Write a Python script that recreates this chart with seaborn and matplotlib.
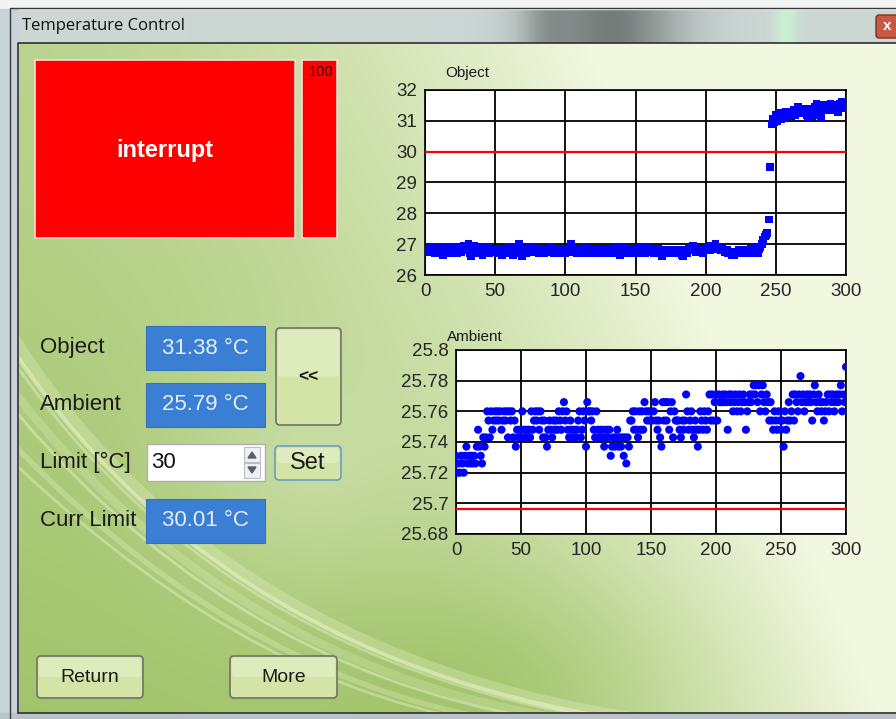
import numpy as np
import matplotlib
matplotlib.use("Agg")
import matplotlib.pyplot as plt
import seaborn as sns
from matplotlib.patches import Rectangle, FancyBboxPatch, Polygon, PathPatch
from matplotlib.path import Path

# ---- data ----
object_temp = [
    26.75, 26.8, 26.75, 26.85, 26.8, 26.9, 26.8, 26.7, 26.85, 26.75,
    26.8, 26.9, 26.7, 26.65, 26.8, 26.75, 26.9, 26.8, 26.7, 26.85,
    26.8, 26.75, 26.9, 26.7, 26.8, 26.85, 26.75, 26.9, 26.95, 26.8,
    26.85, 27.0, 26.7, 26.6, 26.85, 26.95, 26.75, 26.8, 26.7, 26.9,
    26.8, 26.65, 26.9, 26.85, 26.75, 26.9, 26.7, 26.8, 26.85, 26.75,
    26.8, 26.75, 26.85, 26.7, 26.8, 26.65, 26.75, 26.85, 26.7, 26.8,
    26.9, 26.75, 26.8, 26.65, 26.85, 26.7, 26.9, 27.0, 26.8, 26.6,
    26.75, 26.85, 26.7, 26.8, 26.9, 26.75, 26.85, 26.8, 26.9, 26.75,
    26.8, 26.7, 26.85, 26.75, 26.8, 26.7, 26.85, 26.8, 26.75, 26.9,
    26.8, 26.75, 26.7, 26.85, 26.8, 26.75, 26.7, 26.85, 26.75, 26.8,
    26.7, 26.85, 26.75, 26.9, 27.0, 26.8, 26.75, 26.85, 26.7, 26.8,
    26.85, 26.75, 26.8, 26.7, 26.9, 26.8, 26.75, 26.85, 26.7, 26.8,
    26.75, 26.85, 26.8, 26.7, 26.75, 26.8, 26.7, 26.85, 26.75, 26.7,
    26.8, 26.75, 26.85, 26.7, 26.8, 26.75, 26.9, 26.8, 26.7, 26.65,
    26.8, 26.75, 26.9, 26.7, 26.8, 26.85, 26.75, 26.8, 26.7, 26.85,
    26.75, 26.8, 26.7, 26.9, 26.8, 26.75, 26.85, 26.7, 26.8, 26.9,
    26.75, 26.8, 26.85, 26.7, 26.8, 26.75, 26.85, 26.8, 26.7, 26.6,
    26.75, 26.8, 26.7, 26.75, 26.8, 26.7, 26.75, 26.8, 26.7, 26.75,
    26.8, 26.7, 26.75, 26.65, 26.6, 26.75, 26.8, 26.7, 26.85, 26.8,
    26.9, 26.95, 26.8, 26.75, 26.8, 26.85, 26.75, 26.8, 26.7, 26.85,
    26.8, 26.9, 26.85, 26.8, 26.95, 26.9, 26.85, 27.0, 26.9, 26.85,
    26.9, 26.8, 26.85, 26.8, 26.75, 26.8, 26.7, 26.75, 26.7, 26.65,
    26.65, 26.7, 26.75, 26.7, 26.8, 26.75, 26.7, 26.8, 26.75, 26.7,
    26.8, 26.75, 26.85, 26.7, 26.8, 26.9, 26.75, 26.7, 26.85, 26.9,
    27.0, 27.15, 27.25, 27.3, 27.35, 27.8, 29.5, 30.9, 31.05, 30.95,
    31.2, 31.0, 31.1, 31.25, 31.05, 31.2, 31.1, 31.3, 31.15, 31.2,
    31.3, 31.15, 31.25, 31.35, 31.2, 31.3, 31.45, 31.25, 31.3, 31.4,
    31.35, 31.3, 31.2, 31.1, 31.4, 31.3, 31.15, 31.35, 31.45, 31.55,
    31.4, 31.2, 31.1, 31.5, 31.4, 31.35, 31.5, 31.45, 31.4, 31.55,
    31.45, 31.35, 31.5, 31.4, 31.3, 31.45, 31.55, 31.6, 31.45, 31.4,
    31.45,
]
ambient_temp = [
    25.731, 25.720, 25.726, 25.720, 25.731, 25.726, 25.720, 25.731, 25.737, 25.726,
    25.731, 25.726, 25.731, 25.726, 25.731, 25.726, 25.737, 25.748, 25.737, 25.731,
    25.726, 25.743, 25.737, 25.743, 25.760, 25.754, 25.743, 25.760, 25.748, 25.754,
    25.760, 25.754, 25.760, 25.754, 25.760, 25.748, 25.754, 25.760, 25.754, 25.760,
    25.743, 25.760, 25.754, 25.760, 25.743, 25.754, 25.737, 25.748, 25.743, 25.748,
    25.743, 25.760, 25.748, 25.743, 25.748, 25.743, 25.748, 25.743, 25.760, 25.748,
    25.754, 25.760, 25.754, 25.760, 25.748, 25.760, 25.754, 25.743, 25.754, 25.743,
    25.737, 25.748, 25.754, 25.748, 25.743, 25.754, 25.748, 25.754, 25.748, 25.760,
    25.754, 25.748, 25.760, 25.766, 25.754, 25.760, 25.748, 25.743, 25.754, 25.748,
    25.743, 25.748, 25.743, 25.748, 25.754, 25.760, 25.743, 25.748, 25.760, 25.754,
    25.737, 25.766, 25.760, 25.760, 25.754, 25.760, 25.748, 25.743, 25.760, 25.748,
    25.743, 25.748, 25.743, 25.748, 25.737, 25.743, 25.748, 25.743, 25.748, 25.731,
    25.737, 25.743, 25.737, 25.743, 25.748, 25.737, 25.743, 25.737, 25.743, 25.731,
    25.743, 25.726, 25.743, 25.737, 25.754, 25.754, 25.760, 25.748, 25.760, 25.748,
    25.743, 25.760, 25.748, 25.760, 25.748, 25.766, 25.760, 25.754, 25.760, 25.754,
    25.760, 25.754, 25.760, 25.766, 25.754, 25.748, 25.754, 25.743, 25.737, 25.766,
    25.754, 25.766, 25.754, 25.766, 25.748, 25.760, 25.766, 25.743, 25.760, 25.754,
    25.754, 25.754, 25.748, 25.743, 25.754, 25.748, 25.754, 25.771, 25.760, 25.748,
    25.754, 25.760, 25.748, 25.743, 25.754, 25.748, 25.737, 25.748, 25.760, 25.754,
    25.748, 25.760, 25.754, 25.748, 25.760, 25.771, 25.754, 25.771, 25.754, 25.766,
    25.771, 25.754, 25.771, 25.766, 25.766, 25.771, 25.766, 25.771, 25.766, 25.748,
    25.771, 25.766, 25.771, 25.760, 25.766, 25.771, 25.760, 25.766, 25.771, 25.760,
    25.766, 25.771, 25.766, 25.748, 25.760, 25.766, 25.771, 25.766, 25.771, 25.777,
    25.771, 25.777, 25.766, 25.777, 25.760, 25.771, 25.777, 25.766, 25.760, 25.771,
    25.766, 25.754, 25.766, 25.754, 25.748, 25.760, 25.754, 25.748, 25.760, 25.754,
    25.748, 25.754, 25.737, 25.760, 25.748, 25.754, 25.766, 25.754, 25.760, 25.771,
    25.754, 25.771, 25.766, 25.760, 25.771, 25.783, 25.766, 25.771, 25.760, 25.766,
    25.771, 25.766, 25.771, 25.766, 25.754, 25.771, 25.777, 25.766, 25.760, 25.771,
    25.766, 25.760, 25.766, 25.754, 25.760, 25.766, 25.771, 25.760, 25.771, 25.766,
    25.771, 25.760, 25.766, 25.771, 25.766, 25.771, 25.777, 25.760, 25.771, 25.766,
    25.789,
]
object_limit = 29.98
ambient_limit = 25.696

sample_ticks = [0, 50, 100, 150, 200, 250, 300]
object_ticks = [26, 27, 28, 29, 30, 31, 32]
ambient_ticks = [25.68, 25.70, 25.72, 25.74, 25.76, 25.78, 25.80]

window_title = "Temperature Control"
status_text = "interrupt"
status_level = "100"
field_labels = ["Object", "Ambient", "Limit [°C]", "Curr Limit"]
readouts = ["31.38 °C", "25.79 °C", None, "30.01 °C"]
limit_input = "30"
button_labels = ["<<", "Set", "Return", "More"]

W, H = 896, 719
FONT = "Liberation Sans"

sns.set_style("white")
plt.rcParams["font.family"] = [FONT, "DejaVu Sans"]

fig = plt.figure(figsize=(W / 100, H / 100), dpi=100)

# ---- background axes in pixel coordinates ----
bg = fig.add_axes([0, 0, 1, 1], zorder=0)
bg.set_xlim(0, W)
bg.set_ylim(H, 0)
bg.axis("off")

yy, xx = np.mgrid[0:H, 0:W]
u = xx / W
v = yy / H
w = 0.34 - 0.3 * v + 1.0 * u ** 2.0 + 0.4 * u * (1 - v)
w -= 0.28 * np.exp(-(((u - 0.58) / 0.22) ** 2 + ((v - 0.95) / 0.18) ** 2))
w += 0.18 * np.exp(-(((u - 0.32) / 0.12) ** 2 + ((v - 0.66) / 0.15) ** 2))
w = np.clip(w, 0, 1)[..., None]
dark = np.array([0.62, 0.76, 0.40])
light = np.array([0.95, 0.97, 0.88])
img = dark + (light - dark) * w
bg.imshow(img, extent=[0, W, H, 0], aspect="auto", zorder=0)

# light swooshes
for off, lw, al in [(0, 9, 0.25), (14, 3, 0.45), (26, 2, 0.35), (60, 6, 0.2),
                    (80, 2, 0.4), (120, 4, 0.25), (140, 2, 0.35)]:
    p = Path([(-10, 300 + off), (190 + off * 0.3, 650 + off * 0.2), (640 - off * 1.2, 720)],
             [Path.MOVETO, Path.CURVE3, Path.CURVE3])
    bg.add_patch(PathPatch(p, fill=False, ec="#f4fbd8", lw=lw, alpha=al, zorder=1))

# window frame / title bar (blurred desktop behind the glass)
bar = np.ones((34, W, 3)) * np.array([0.80, 0.84, 0.83])
bx = np.arange(W)
shade = 0.42 * np.exp(-((bx - 610) / 70.0) ** 2) + 0.15 * np.exp(-((bx - 545) / 25.0) ** 2)
bar = bar * (1 - shade)[None, :, None]
bar[:, :, 1] += 0.10 * np.exp(-((bx - 785) / 12.0) ** 2)[None, :]
bg.imshow(np.clip(bar, 0, 1), extent=[0, W, 43, 9], aspect="auto", zorder=2)
bg.add_patch(Rectangle((0, 0), W, 9, color="#f2f4f4", zorder=2))
bg.add_patch(Rectangle((0, 9), 18, H, color="#c9d3da", zorder=2))
bg.add_patch(Rectangle((0, 713), W, 6, color="#b9c3c9", zorder=2))
bg.plot([10, 10, W], [H, 8, 8], color="#3a3a3a", lw=1, zorder=3)
bg.plot([18, 18, W], [713, 43, 43], color="#303030", lw=1.2, zorder=3)
bg.plot([18, W], [713, 713], color="#303030", lw=1.2, zorder=3)
bg.text(22, 26, window_title, fontsize=12, color="#111111", va="center", ha="left",
        family="Open Sans", zorder=4)
bg.add_patch(FancyBboxPatch((876, 15), 30, 23, boxstyle="round,pad=0,rounding_size=3",
                            fc="#c85a44", ec="#7a3022", lw=1, zorder=4))
bg.text(887, 26, "x", fontsize=11, color="white", weight="bold", ha="center",
        va="center", zorder=5)

# status panels
bg.add_patch(Rectangle((35, 60), 260, 178, fc="#ff0000", ec="#ffd8d0", lw=1.2, zorder=3))
small = Rectangle((302, 60), 35, 178, fc="#ff0000", ec="#ffd8d0", lw=1.2, zorder=3)
bg.add_patch(small)
bg.text(165, 150, status_text, fontsize=17, weight="bold", color="white",
        ha="center", va="center", zorder=4)
t = bg.text(309, 72, status_level, fontsize=10.5, color="#2a0000", ha="left",
            va="center", zorder=4)
t.set_clip_path(small)

# labels and readouts
rows_y = [348, 405, 462, 521]
for lab, ry in zip(field_labels, rows_y):
    bg.text(40, ry, lab, fontsize=16, color="#1a1a1a", ha="left", va="center", zorder=4)
for val, ry in zip(readouts, rows_y):
    if val is None:
        continue
    bg.add_patch(Rectangle((146, ry - 22), 119, 44, fc="#3b7fd4", ec="#3572c0",
                           lw=0.8, zorder=3))
    bg.text(205, ry, val, fontsize=16, color="#e4eefa", ha="center", va="center", zorder=4)

# limit input box with spinner
bg.add_patch(Rectangle((147, 444), 118, 37, fc="white", ec="#a8b0b8", lw=1, zorder=3))
bg.text(151, 462, limit_input, fontsize=16, color="#111111", ha="left", va="center", zorder=4)
for y0 in (447, 463):
    bg.add_patch(Rectangle((244, y0), 16, 15, fc="#eef0f2", ec="#b8bec4", lw=0.8, zorder=4))
bg.add_patch(Polygon([(248, 458), (256, 458), (252, 452)], color="#5a6068", zorder=5))
bg.add_patch(Polygon([(248, 467), (256, 467), (252, 473)], color="#5a6068", zorder=5))


def button(x, y, w_, h_, text, size, edge="#6e7468", weight="normal"):
    bg.add_patch(FancyBboxPatch((x, y), w_, h_, boxstyle="round,pad=0,rounding_size=4",
                                fc="#d3e4a6", ec=edge, lw=1.2, zorder=3))
    bg.add_patch(FancyBboxPatch((x + 2, y + 2), w_ - 4, h_ / 2 - 2,
                                boxstyle="round,pad=0,rounding_size=3",
                                fc="#e4efc4", ec="none", alpha=0.7, zorder=3))
    bg.text(x + w_ / 2, y + h_ / 2, text, fontsize=size, color="#1a1a1a",
            ha="center", va="center", weight=weight, zorder=4)


button(276, 328, 65, 97, button_labels[0], 12.5, weight="bold")
button(275, 446, 66, 34, button_labels[1], 17, edge="#6a9cc8")
button(37, 656, 106, 42, button_labels[2], 14)
button(230, 656, 107, 42, button_labels[3], 14)


# ---- the two charts ----
def style_chart(ax, yticks, ylim):
    ax.set_facecolor("white")
    ax.set_xlim(0, 300)
    ax.set_ylim(*ylim)
    ax.set_xticks(sample_ticks)
    ax.set_yticks(yticks)
    ax.grid(True, color="black", lw=1.3)
    ax.set_axisbelow(True)
    for s in ax.spines.values():
        s.set_color("black")
        s.set_linewidth(1.2)
    ax.tick_params(axis="both", direction="out", length=4, width=1, color="black",
                   labelsize=13.5, labelcolor="#262626", pad=1.5)
    ax.set_xlabel("")
    ax.set_ylabel("")


ax1 = fig.add_axes([425 / W, 1 - 275 / H, 421 / W, 185 / H], zorder=5)
obj_x = np.arange(len(object_temp))
ax1.axhline(object_limit, color="#ff0000", lw=1.6, zorder=3)
sns.scatterplot(x=obj_x, y=object_temp, marker="s", s=32, color="#0000ff",
                edgecolor="none", linewidth=0, ax=ax1, zorder=4, legend=False)
style_chart(ax1, object_ticks, (26, 32))
ax1.set_yticklabels([f"{t:g}" for t in object_ticks])

ax2 = fig.add_axes([456 / W, 1 - 534 / H, 390 / W, 184 / H], zorder=5)
amb_x = np.arange(len(ambient_temp))
ax2.axhline(ambient_limit, color="#ff0000", lw=1.6, zorder=3)
sns.scatterplot(x=amb_x, y=ambient_temp, marker="o", s=34, color="#0000ff",
                edgecolor="none", linewidth=0, ax=ax2, zorder=4, legend=False)
style_chart(ax2, ambient_ticks, (25.68, 25.80))
ax2.set_yticklabels([f"{t:g}" for t in ambient_ticks])

# chart titles (drawn on top)
top = fig.add_axes([0, 0, 1, 1], zorder=10)
top.set_xlim(0, W)
top.set_ylim(H, 0)
top.axis("off")
top.text(445, 73, "Object", fontsize=11, color="#1a1a1a", ha="left", va="center")
top.text(447, 337, "Ambient", fontsize=11, color="#1a1a1a", ha="left", va="center")

fig.savefig("out.png", dpi=100)
